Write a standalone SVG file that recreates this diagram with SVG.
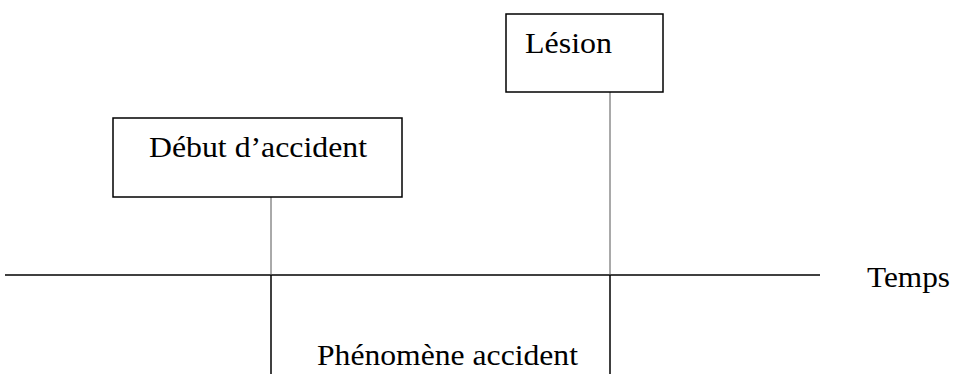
<svg xmlns="http://www.w3.org/2000/svg" width="954" height="374" viewBox="0 0 954 374">
<style>
.box{fill:#fff;stroke:#000;stroke-width:1.5}
.t{font-family:"Liberation Serif","Times New Roman",serif;font-size:30px;fill:#000}
.thin{stroke:#555;stroke-width:1}
.thick{stroke:#000;stroke-width:1.5}
</style>
<rect width="954" height="374" fill="#fff"/>
<g id="connectors">
<line class="thick" x1="5" y1="275" x2="820" y2="275"/>
<line class="thin" x1="271" y1="197" x2="271" y2="275"/>
<line class="thick" x1="271" y1="275" x2="271" y2="374"/>
<line class="thin" x1="610" y1="92" x2="610" y2="275"/>
<line class="thick" x1="610" y1="275" x2="610" y2="374"/>
</g>
<g id="debut">
<rect class="box" x="113" y="118" width="289" height="79"/>
<text class="t" x="149" y="157" textLength="218" lengthAdjust="spacingAndGlyphs">Début d’accident</text>
</g>
<g id="lesion">
<rect class="box" x="506" y="14" width="157" height="78"/>
<text class="t" x="525" y="53" textLength="87" lengthAdjust="spacingAndGlyphs">Lésion</text>
</g>
<g id="temps">
<text class="t" x="867" y="287" textLength="83" lengthAdjust="spacingAndGlyphs">Temps</text>
</g>
<g id="phenomene">
<text class="t" x="317" y="365" textLength="261" lengthAdjust="spacingAndGlyphs">Phénomène accident</text>
</g>
</svg>
